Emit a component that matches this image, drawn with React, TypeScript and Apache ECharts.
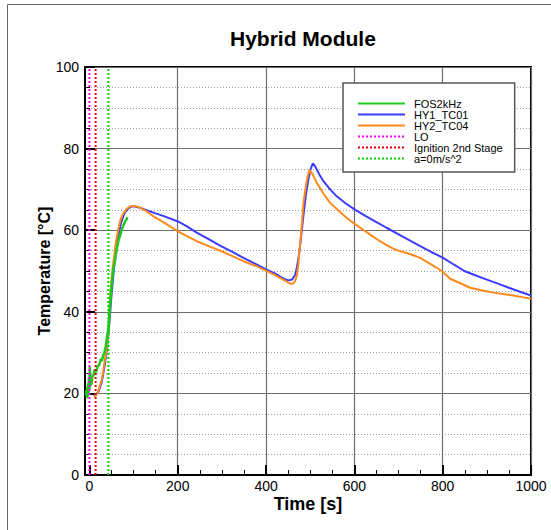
import React, { useEffect, useRef } from 'react';
import * as echarts from 'echarts';

const FONT = '"Liberation Sans", Arial, Helvetica, sans-serif';

// HY1_TC01 (blue)
const hy1Time = [10, 20, 28, 34, 40, 45, 50, 55, 60, 66, 72, 80, 90, 99, 120, 145, 170, 199, 220, 243, 270, 298, 325, 349, 375, 400, 420, 432, 442, 451, 459, 466, 470, 474, 478, 484, 490, 496, 501, 506, 512, 520, 530, 545, 560, 580, 602, 625, 650, 673, 700, 720, 749, 775, 800, 825, 849, 875, 900, 925, 950, 975, 1000];
const hy1Temp = [19.4, 20.3, 22.8, 26.5, 31, 37, 44, 50, 55, 59, 62, 64.3, 65.5, 65.9, 65.3, 64.3, 63.4, 62.2, 61, 59.4, 57.8, 56.1, 54.6, 53.2, 51.8, 50.4, 49.4, 48.6, 48, 47.7, 47.9, 49.1, 51, 53.6, 57, 63, 68.5, 72.5, 75, 76.4, 75.5, 73.8, 72, 70, 68.3, 66.6, 65, 63.5, 62, 60.6, 59, 57.8, 56.1, 54.6, 53.3, 51.6, 50, 48.9, 47.9, 46.9, 45.9, 44.9, 44.0];

// HY2_TC04 (orange)
const hy2Time = [10, 15, 20, 25, 28, 31, 34, 37, 40, 43, 46, 50, 54, 60, 65, 70, 77, 85, 94, 105, 115, 130, 145, 170, 199, 220, 243, 270, 298, 325, 349, 375, 400, 420, 439, 448, 455, 461, 466, 470, 473, 476, 480, 485, 492, 498, 505, 515, 530, 545, 565, 583, 600, 620, 640, 658, 675, 688, 700, 718, 735, 749, 765, 780, 798, 808, 817, 840, 862, 890, 915, 940, 960, 980, 1000];
const hy2Temp = [19.2, 19.5, 20.5, 22.3, 23.4, 25, 27.5, 29.5, 31.6, 35.5, 42, 48, 52, 57, 60, 62.5, 64.2, 65.3, 65.9, 65.9, 65.5, 64.6, 63.4, 61.8, 59.8, 58.6, 57.3, 56.1, 54.9, 53.6, 52.4, 51.3, 50.1, 49, 47.9, 47.3, 46.9, 46.9, 47.6, 49, 51.5, 55.3, 60, 67, 72, 74.8, 73.8, 71.6, 69, 66.7, 64.7, 63, 61.6, 60.1, 58.6, 57.3, 56.2, 55.5, 55, 54.4, 53.8, 53.2, 52.2, 51.2, 50, 49, 48.1, 47, 45.9, 45.2, 44.7, 44.3, 44, 43.6, 43.2];

// FOS2kHz (green)
const fosTime = [-8, -7, -6, -5, -4, -3, -2, -1, 0, 1, 2, 3, 5, 7, 9, 12, 15, 18, 20, 23, 26, 28, 31, 34, 37, 39, 41, 43, 45, 47, 50, 54, 58, 62, 66, 69, 73, 77, 81, 84, 86];
const fosTemp = [19.5, 20.8, 18.8, 21.5, 19.2, 22.5, 20.0, 24, 21, 26.5, 23, 22, 22.5, 24.5, 24.2, 25.9, 25.2, 26.5, 26.7, 27.2, 28.5, 27.9, 29.2, 30, 31.5, 33.2, 34.5, 35.7, 39, 42, 46, 50.5, 52.5, 55.5, 57.5, 58.5, 60, 61.2, 62.2, 62.6, 63.2];

// Event markers
const eventNames = ['LO', 'Ignition 2nd Stage', 'a=0m/s^2'];
const eventTimes = [0, 14, 43];
const eventColors = ['#ff00ff', '#e00000', '#00d400'];
const tempRange = [0, 100];

const legendOrder = ['FOS2kHz', 'HY1_TC01', 'HY2_TC04', 'LO', 'Ignition 2nd Stage', 'a=0m/s^2'];
const xMajorTicks = [0, 200, 400, 600, 800, 1000];
const xMinorTicks = [50, 100, 150, 250, 300, 350, 450, 500, 550, 650, 700, 750, 850, 900, 950];

const pairs = (t: number[], v: number[]) => t.map((x, i) => [x, v[i]]);

export default function App() {
  const ref = useRef<HTMLDivElement>(null);
  useEffect(() => {
    if (!ref.current) return;
    const chart = echarts.init(ref.current, null, { renderer: 'svg' });
    const lineSeries = (name: string, data: number[][], color: string, width: number) => ({
      name, type: 'line', data, symbol: 'none', showSymbol: false,
      lineStyle: { color, width }, itemStyle: { color }, clip: true,
    });
    const eventSeries = eventNames.map((name, i) => ({
      name, type: 'line', symbol: 'none', showSymbol: false,
      data: tempRange.map((v) => [eventTimes[i], v]),
      lineStyle: { color: eventColors[i], width: 2, type: 'dotted' },
      itemStyle: { color: eventColors[i] },
    }));
    chart.setOption({
      animation: false,
      backgroundColor: '#fff',
      title: {
        text: 'Hybrid Module', left: 230, top: 28, padding: 0,
        textStyle: { fontSize: 21, fontWeight: 'bold', fontFamily: FONT, color: '#000' },
      },
      graphic: [
        { type: 'rect', silent: true, shape: { x: 7.5, y: 4.5, width: 600, height: 600 }, style: { fill: 'none', stroke: '#666', lineWidth: 1 } },
      ],
      legend: {
        orient: 'vertical', left: 343, top: 83, padding: [15, 12, 8, 14],
        itemWidth: 47, itemHeight: 11, itemGap: 0,
        backgroundColor: '#fff', borderColor: '#555', borderWidth: 1.5,
        data: legendOrder,
        itemStyle: { opacity: 0, borderWidth: 0 },
        textStyle: { fontSize: 11, fontFamily: FONT, color: '#000', padding: [0, 0, 0, 4] },
      },
      grid: { left: 85, right: 20, top: 67, bottom: 55, show: true, borderColor: '#000', borderWidth: 2, backgroundColor: 'transparent' },
      xAxis: [
        {
          type: 'value', min: -10, max: 1000, position: 'bottom',
          axisLine: { show: true, onZero: false, lineStyle: { color: '#000', width: 2 } },
          axisTick: { show: true, inside: true, length: 10, lineStyle: { color: '#000', width: 2 }, customValues: xMajorTicks },
          axisLabel: { show: true, customValues: xMajorTicks, margin: 4, fontSize: 14, color: '#000', fontFamily: FONT, formatter: (v: number) => String(v) },
          splitLine: { show: true, lineStyle: { color: ['rgba(0,0,0,0)', '#6e6e6e', '#6e6e6e', '#6e6e6e', '#6e6e6e', '#6e6e6e'], width: 1.2 } },
          name: 'Time [s]', nameLocation: 'middle', nameGap: 20, nameMoveOverlap: false,
          nameTextStyle: { fontSize: 18, fontWeight: 'bold', fontFamily: FONT, color: '#000' },
        },
        {
          type: 'value', min: -10, max: 1000, position: 'bottom',
          axisLine: { show: false, onZero: false },
          axisLabel: { show: false },
          splitLine: { show: false },
          axisTick: { show: true, inside: true, length: 5, lineStyle: { color: '#000', width: 1 }, customValues: xMinorTicks },
        },
      ],
      yAxis: {
        type: 'value', min: 0, max: 100, interval: 20,
        axisLine: { show: true, onZero: false, lineStyle: { color: '#000', width: 2 } },
        axisTick: { show: true, inside: true, length: 10, lineStyle: { color: '#000', width: 2 } },
        minorTick: { show: true, splitNumber: 4, length: 5, lineStyle: { color: '#000', width: 1 } },
        axisLabel: { margin: 6, fontSize: 14, color: '#000', fontFamily: FONT },
        splitLine: { show: true, lineStyle: { color: '#6e6e6e', width: 1.2 } },
        minorSplitLine: { show: true, lineStyle: { color: '#9a9a9a', width: 1, type: [1, 2] } },
        name: 'Temperature [°C]', nameLocation: 'middle', nameGap: 33, nameMoveOverlap: false,
        nameTextStyle: { fontSize: 16, fontWeight: 'bold', fontFamily: FONT, color: '#000' },
      },
      series: [
        lineSeries('HY1_TC01', pairs(hy1Time, hy1Temp), '#3c3cff', 2),
        lineSeries('HY2_TC04', pairs(hy2Time, hy2Temp), '#ff8a1a', 2),
        lineSeries('FOS2kHz', pairs(fosTime, fosTemp), '#1ec81e', 2.5),
        ...eventSeries,
      ],
    });
    return () => chart.dispose();
  }, []);
  return (
    <div
      ref={ref}
      style={{ position: 'fixed', left: 0, top: 0, width: 551, height: 530, background: '#fff' }}
    />
  );
}
